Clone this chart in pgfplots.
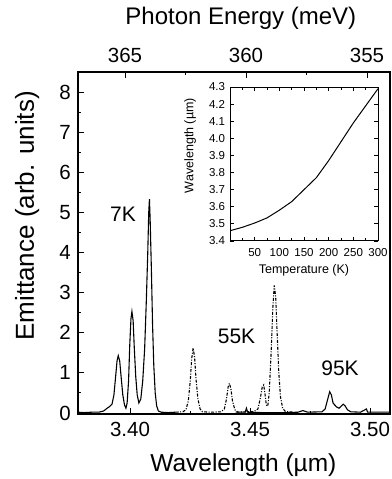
\documentclass[border=0pt]{standalone}
\usepackage{fontspec}
\setmainfont{Liberation Sans}
\usepackage{pgfplots}
\pgfplotsset{compat=1.18}
\pgfplotsset{every axis/.append style={/pgf/number format/assume math mode=true}}
\begin{document}
\begin{tikzpicture}
% ---------------- main axis ----------------
\begin{axis}[name=main,
  scale only axis, width=312pt, height=342pt,
  xmin=3.37833, xmax=3.50833, ymin=-0.025, ymax=8.5,
  axis line style={line width=1.1pt},
  tick style={black, line width=0.9pt},
  tick align=inside,
  major tick length=6pt, minor tick length=3.5pt,
  xtick={3.40,3.45,3.50}, xticklabels={3.40,3.45,3.50},
  minor xtick={3.425,3.475},
  xtick pos=bottom,
  ytick={0,1,...,8}, minor ytick={0.5,1.5,...,7.5},
  ytick pos=left,
  xticklabel style={font=\fontsize{20.5}{22}\selectfont, anchor=center, yshift=-15pt},
  yticklabel style={font=\fontsize{20.5}{22}\selectfont, anchor=center, xshift=-13pt},
  xlabel={Wavelength (µm)},
  xlabel style={font=\fontsize{24.5}{27}\selectfont, at={(axis description cs:0.53,-0.149)}, anchor=center},
  ylabel={Emittance (arb. units)},
  ylabel style={font=\fontsize{26}{29}\selectfont, at={(axis description cs:-0.163,0.579)}, anchor=center},
  clip=true,
]
% 7K (solid)
\addplot[black, line width=1.1pt] coordinates {
(3.3783,0.02) (3.3810,0.01) (3.3840,0.02) (3.3870,0.02) (3.3890,0.05) (3.3905,0.12)
(3.3915,0.16) (3.3925,0.22) (3.3933,0.45) (3.3940,0.90) (3.3946,1.30) (3.3951,1.43)
(3.3957,1.30) (3.3963,0.90) (3.3970,0.45) (3.3977,0.20) (3.3983,0.12) (3.3988,0.25)
(3.3994,0.80) (3.3999,1.70) (3.4004,2.35) (3.4008,2.53) (3.4013,2.30) (3.4018,1.60)
(3.4024,0.90) (3.4030,0.45) (3.4037,0.25) (3.4045,0.35) (3.4053,0.80) (3.4061,1.60)
(3.4068,2.80) (3.4074,4.00) (3.4078,5.00) (3.4081,5.33) (3.4084,4.80) (3.4089,3.60)
(3.4094,2.20) (3.4099,1.20) (3.4105,0.50) (3.4111,0.18) (3.4118,0.05) (3.4130,0.02)
(3.4160,0.01) (3.4190,0.02)
};
% 55K (dash-dot)
\addplot[black, line width=1.1pt, dash pattern=on 3pt off 1.5pt on 1pt off 1.5pt] coordinates {
(3.4190,0.02) (3.4220,0.03) (3.4233,0.08) (3.4243,0.30) (3.4251,0.80) (3.4257,1.35)
(3.4263,1.62) (3.4269,1.40) (3.4275,0.85) (3.4283,0.35) (3.4292,0.10) (3.4302,0.03)
(3.4340,0.02) (3.4380,0.03) (3.4393,0.10) (3.4402,0.35) (3.4409,0.65) (3.4414,0.74)
(3.4420,0.62) (3.4427,0.30) (3.4437,0.08) (3.4450,0.02) (3.4480,0.03) (3.4515,0.03)
(3.4533,0.10) (3.4544,0.40) (3.4551,0.65) (3.4557,0.70) (3.4563,0.45) (3.4568,0.20)
(3.4574,0.17) (3.4580,0.50) (3.4588,1.50) (3.4595,2.60) (3.4601,3.18) (3.4607,2.90)
(3.4613,2.00) (3.4620,1.00) (3.4627,0.40) (3.4636,0.12) (3.4647,0.04) (3.4680,0.02)
};
% 95K (solid)
\addplot[black, line width=1.1pt] coordinates {
(3.4440,0.02) (3.4480,0.02) (3.4485,0.12) (3.4490,0.02) (3.4550,0.01) (3.4650,0.01)
(3.4700,0.02) (3.4720,0.06) (3.4740,0.02) (3.4800,0.03) (3.4813,0.10) (3.4824,0.35)
(3.4832,0.53) (3.4839,0.45) (3.4846,0.25) (3.4853,0.20) (3.4861,0.15) (3.4871,0.12)
(3.4880,0.17) (3.4888,0.22) (3.4896,0.18) (3.4906,0.08) (3.4920,0.03) (3.4960,0.02)
(3.4985,0.10) (3.4990,0.02) (3.5040,0.02) (3.5088,0.02)
};
\node[font=\fontsize{21}{24}\selectfont] at (axis cs:3.3971,4.95) {7K};
\node[font=\fontsize{21}{24}\selectfont] at (axis cs:3.4444,1.91) {55K};
\node[font=\fontsize{21}{24}\selectfont] at (axis cs:3.4875,1.12) {95K};
\end{axis}
\coordinate (insetpos) at ([xshift=152pt,yshift=173pt]main.south west);
% ---------------- top energy axis ----------------
\begin{axis}[
  at={(main.south west)}, anchor=south west,
  scale only axis, width=312pt, height=342pt,
  xmin=354.05, xmax=366.94, x dir=reverse,
  ymin=0, ymax=1,
  axis x line*=top, axis y line=none,
  axis line style={line width=1.1pt, -},
  tick style={black, line width=0.9pt},
  tick align=inside,
  major tick length=6pt, minor tick length=3.5pt,
  xtick={355,360,365}, minor xtick={357.5,362.5},
  xticklabel style={font=\fontsize{20.5}{22}\selectfont, anchor=center, yshift=17pt},
  xlabel={Photon Energy (meV)},
  xlabel style={font=\fontsize{24}{27}\selectfont, at={(axis description cs:0.522,1.158)}, anchor=center},
]
\addplot[draw=none] coordinates {(360,0.5)};
\end{axis}
% ---------------- inset ----------------
\begin{axis}[
  at={(insetpos)}, anchor=south west,
  scale only axis, width=148pt, height=154pt,
  xmin=0, xmax=300, ymin=3.4, ymax=4.3,
  axis line style={line width=1.0pt},
  tick style={black, line width=0.8pt},
  tick align=inside,
  major tick length=4pt, minor tick length=2.5pt,
  xtick={50,100,...,300}, minor xtick={25,75,...,275},
  ytick={3.4,3.5,...,4.31},
  yticklabel style={/pgf/number format/fixed, /pgf/number format/fixed zerofill, /pgf/number format/precision=1},
  xticklabel style={font=\fontsize{11.5}{13}\selectfont, anchor=center, yshift=-12pt},
  yticklabel style={font=\fontsize{11.5}{13}\selectfont, anchor=center, xshift=-13pt},
  xlabel={Temperature (K)},
  xlabel style={font=\fontsize{12.5}{14}\selectfont, at={(axis description cs:0.5,-0.188)}, anchor=center},
  ylabel={Wavelength (µm)},
  ylabel style={font=\fontsize{12.5}{14}\selectfont, at={(axis description cs:-0.27,0.62)}, anchor=center},
  axis background/.style={fill=white},
]
\addplot[black, line width=1.0pt] coordinates {
(0,3.46) (25,3.48) (50,3.505) (75,3.535) (100,3.58) (125,3.63) (150,3.70)
(175,3.77) (200,3.87) (225,3.98) (250,4.09) (275,4.19) (300,4.29)
};
\end{axis}
\pgfresetboundingbox
\path[use as bounding box] ([xshift=-78pt,yshift=-65pt]main.south west) rectangle ([xshift=2pt,yshift=72pt]main.north east);
\end{tikzpicture}
\end{document}
